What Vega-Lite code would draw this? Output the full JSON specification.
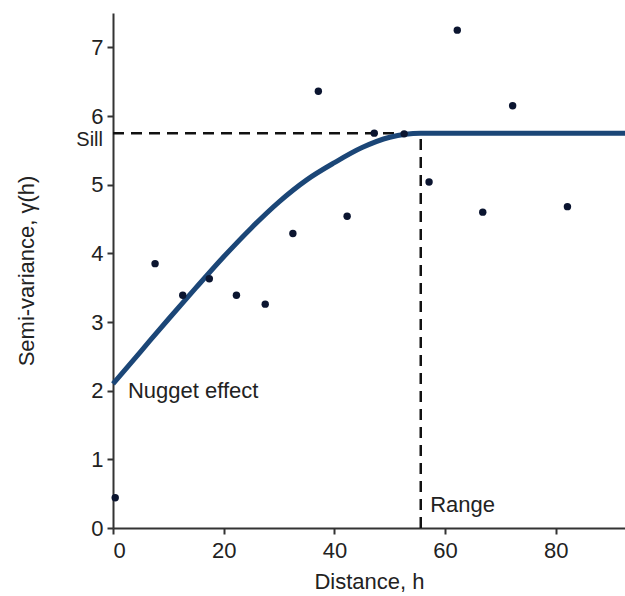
{
  "$schema": "https://vega.github.io/schema/vega-lite/v6.json",
  "autosize": "none",
  "padding": {"left": 113, "top": 13, "right": 0, "bottom": 68},
  "width": 512,
  "height": 515,
  "background": "white",
  "config": {
    "view": {"stroke": null},
    "font": "Liberation Sans",
    "axis": {
      "grid": false,
      "domainColor": "#333333",
      "domainWidth": 2,
      "tickColor": "#333333",
      "tickWidth": 2,
      "tickSize": 6,
      "labelFont": "Liberation Sans",
      "labelFontSize": 22,
      "labelColor": "#222222",
      "titleFont": "Liberation Sans",
      "titleFontSize": 22,
      "titleFontWeight": "normal",
      "titleColor": "#222222"
    }
  },
  "datasets": {
    "points": [
      {"h": 0.4, "g": 0.44},
      {"h": 7.6, "g": 3.85},
      {"h": 12.6, "g": 3.39},
      {"h": 17.4, "g": 3.63},
      {"h": 22.3, "g": 3.39},
      {"h": 27.5, "g": 3.26},
      {"h": 32.5, "g": 4.29},
      {"h": 37.1, "g": 6.36},
      {"h": 42.3, "g": 4.54},
      {"h": 47.2, "g": 5.75},
      {"h": 52.6, "g": 5.74},
      {"h": 57.1, "g": 5.04},
      {"h": 62.2, "g": 7.25},
      {"h": 66.8, "g": 4.6},
      {"h": 72.2, "g": 6.15},
      {"h": 82.1, "g": 4.68}
    ],
    "curve": [
      {"h": 0, "g": 2.1},
      {"h": 5, "g": 2.57},
      {"h": 10, "g": 3.04},
      {"h": 15, "g": 3.5},
      {"h": 20, "g": 3.95},
      {"h": 25, "g": 4.37},
      {"h": 30, "g": 4.75},
      {"h": 35, "g": 5.07},
      {"h": 40, "g": 5.32},
      {"h": 45, "g": 5.54},
      {"h": 50, "g": 5.69},
      {"h": 55.6, "g": 5.75},
      {"h": 92.5, "g": 5.75}
    ],
    "hrule": [{"x1": 0, "x2": 55.6, "y": 5.75}],
    "vrule": [{"x": 55.6, "y1": 0, "y2": 5.75}],
    "labels": [
      {"h": 2.7, "g": 2.0, "text": "Nugget effect"},
      {"h": 57.3, "g": 0.33, "text": "Range"}
    ],
    "sill": [{"h": 0, "g": 5.75, "text": "Sill"}]
  },
  "layer": [
    {
      "data": {"name": "hrule"},
      "mark": {"type": "rule", "color": "#111111", "strokeWidth": 2.5, "strokeDash": [11, 7]},
      "encoding": {
        "x": {"field": "x1", "type": "quantitative", "scale": {"domain": [0, 92.5], "nice": false, "zero": false},
          "axis": {"values": [0, 20, 40, 60, 80], "format": "d", "title": "Distance, h", "labelPadding": 6, "titlePadding": 10}},
        "x2": {"field": "x2"},
        "y": {"field": "y", "type": "quantitative", "scale": {"domain": [0, 7.5], "nice": false},
          "axis": {"values": [0, 1, 2, 3, 4, 5, 6, 7], "format": "d", "title": "Semi-variance, γ(h)", "labelPadding": 4, "titlePadding": 52}}
      }
    },
    {
      "data": {"name": "vrule"},
      "mark": {"type": "rule", "color": "#111111", "strokeWidth": 2.5, "strokeDash": [11, 7]},
      "encoding": {
        "x": {"field": "x", "type": "quantitative"},
        "y": {"field": "y1", "type": "quantitative"},
        "y2": {"field": "y2"}
      }
    },
    {
      "data": {"name": "curve"},
      "mark": {"type": "line", "color": "#1b4677", "strokeWidth": 5, "interpolate": "monotone"},
      "encoding": {
        "x": {"field": "h", "type": "quantitative"},
        "y": {"field": "g", "type": "quantitative"}
      }
    },
    {
      "data": {"name": "points"},
      "mark": {"type": "circle", "color": "#0b1530", "opacity": 1, "size": 55},
      "encoding": {
        "x": {"field": "h", "type": "quantitative"},
        "y": {"field": "g", "type": "quantitative"}
      }
    },
    {
      "data": {"name": "labels"},
      "mark": {"type": "text", "align": "left", "baseline": "middle", "fontSize": 22, "color": "#222222", "font": "Liberation Sans"},
      "encoding": {
        "x": {"field": "h", "type": "quantitative"},
        "y": {"field": "g", "type": "quantitative"},
        "text": {"field": "text"}
      }
    },
    {
      "data": {"name": "sill"},
      "mark": {"type": "text", "align": "right", "baseline": "middle", "fontSize": 20, "color": "#222222", "font": "Liberation Sans", "dx": -10, "dy": 7},
      "encoding": {
        "x": {"field": "h", "type": "quantitative"},
        "y": {"field": "g", "type": "quantitative"},
        "text": {"field": "text"}
      }
    }
  ]
}
